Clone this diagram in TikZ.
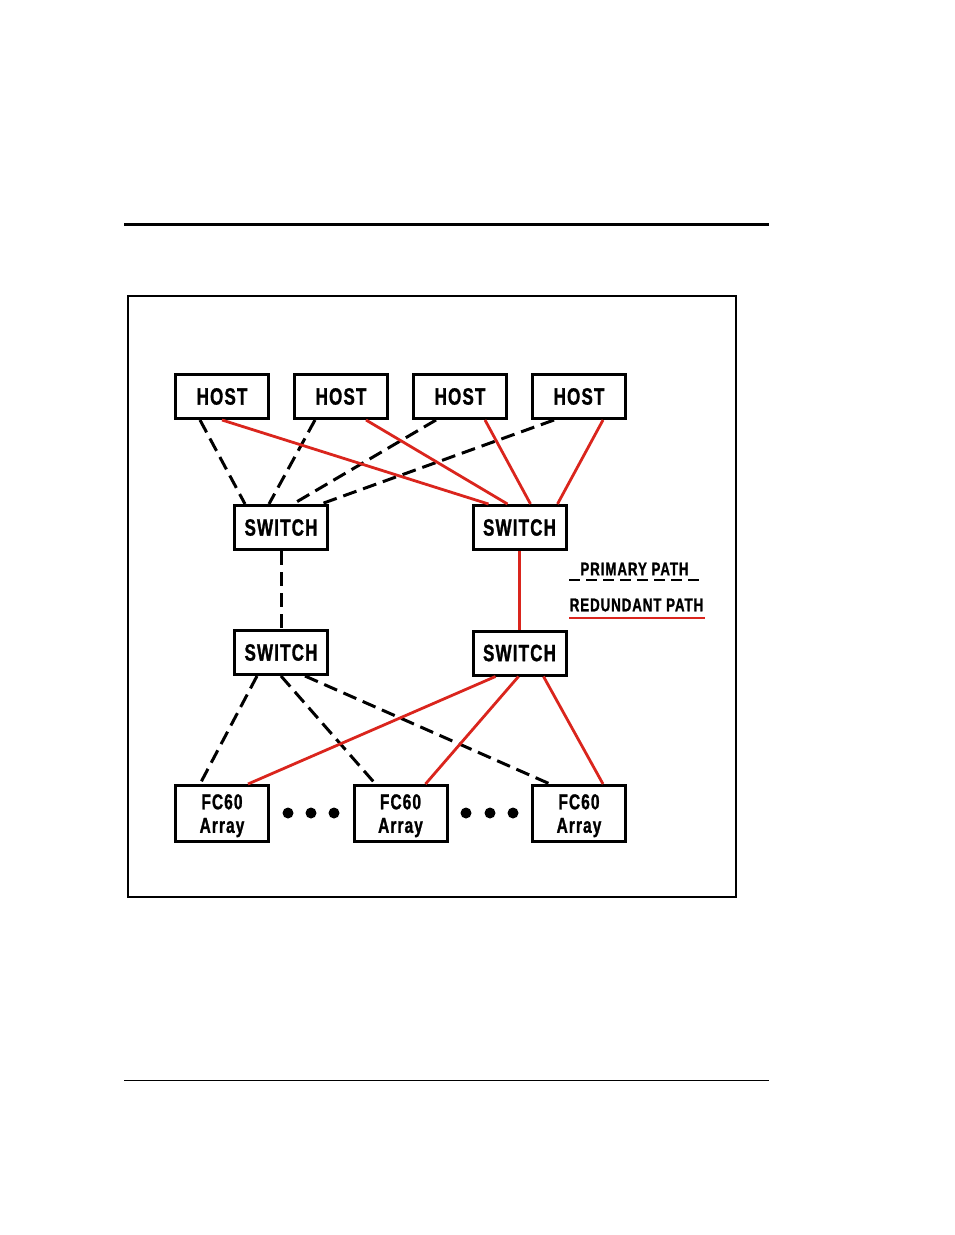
\documentclass[tikz,border=0pt]{standalone}
\usepackage{fontspec}
\newfontfamily\lab{Liberation Sans}[FakeStretch=0.72,LetterSpace=5,BoldFeatures={FakeBold=1.2}]
\definecolor{redpath}{RGB}{218,37,29}
\begin{document}
\begin{tikzpicture}[x=1pt,y=-1pt,
  box/.style={draw=black,line width=3pt,inner sep=0pt,minimum width=93pt,minimum height=44pt,
    font=\lab\bfseries\fontsize{23.6}{26}\selectfont},
  arr/.style={box,minimum height=56pt,align=center,text depth=0pt,font=\lab\bfseries\fontsize{21.5}{23.5}\selectfont},
  prim/.style={line width=3pt,dash pattern=on 14pt off 7pt},
  red/.style={draw=redpath,line width=2.8pt},
  leg/.style={inner sep=0pt,font=\lab\bfseries\fontsize{18.5}{20}\selectfont},
  dot/.style={circle,fill=black,inner sep=0pt,minimum size=11pt}]
\useasboundingbox (0,0) rectangle (954,1235);
% page rules and frame
\coordinate (rt1) at (124,224); \coordinate (rt2) at (769,224);
\draw[line width=3pt] (rt1) -- (rt2);
\coordinate (rb1) at (124,1080); \coordinate (rb2) at (769,1080);
\draw[line width=1pt] (rb1) -- (rb2);
\draw[line width=2pt] (128,296) rectangle (736,897);
% hosts
\node[box] (h1) at (222,396.5) {HOST};
\node[box] (h2) at (341,396.5) {HOST};
\node[box] (h3) at (460,396.5) {HOST};
\node[box] (h4) at (579,396.5) {HOST};
% switches
\node[box] (sl) at (281,527.5) {SWITCH};
\node[box] (sr) at (519.5,527.5) {SWITCH};
\node[box] (bl) at (281,652.5) {SWITCH};
\node[box] (br) at (519.5,653) {SWITCH};
% arrays
\node[arr] (f1) at (222,813.5) {FC60\\Array};
\node[arr] (f2) at (400.5,813.5) {FC60\\Array};
\node[arr] (f3) at (579,813.5) {FC60\\Array};
% dots
\node[dot] (d1) at (288,813) {};
\node[dot] (d2) at (311,813) {};
\node[dot] (d3) at (334,813) {};
\node[dot] (d4) at (466,813) {};
\node[dot] (d5) at (490,813) {};
\node[dot] (d6) at (513,813) {};
% host to switch: primary
\draw[prim] ([xshift=-22pt]h1.south) -- ([xshift=-36pt]sl.north);
\draw[prim] ([xshift=-26pt]h2.south) -- ([xshift=-12pt]sl.north);
\draw[prim] ([xshift=-24pt]h3.south) -- ([xshift=12pt]sl.north);
\draw[prim] ([xshift=-25pt]h4.south) -- ([xshift=40pt]sl.north);
% host to switch: redundant
\draw[red] ([xshift=0pt]h1.south) -- ([xshift=-31pt]sr.north);
\draw[red] ([xshift=25pt]h2.south) -- ([xshift=-12pt]sr.north);
\draw[red] ([xshift=25pt]h3.south) -- ([xshift=11pt]sr.north);
\draw[red] ([xshift=24pt]h4.south) -- ([xshift=38pt]sr.north);
% switch to switch
\draw[prim] (sl.south) -- (bl.north);
\draw[red] (sr.south) -- (br.north);
% switch to arrays
\draw[prim] ([xshift=-24pt]bl.south) -- ([xshift=-22pt]f1.north);
\draw[prim] ([xshift=0pt]bl.south) -- ([xshift=-25pt]f2.north);
\draw[prim] ([xshift=24pt]bl.south) -- ([xshift=-29pt]f3.north);
\draw[red] ([xshift=-24pt]br.south) -- ([xshift=26pt]f1.north);
\draw[red] ([xshift=-1pt]br.south) -- ([xshift=25pt]f2.north);
\draw[red] ([xshift=24pt]br.south) -- ([xshift=24pt]f3.north);
% legend
\node[leg] (lp) at (634.5,569) {PRIMARY PATH};
\node[leg] (lr) at (636.5,605) {REDUNDANT PATH};
\coordinate (lp1) at (569,580); \coordinate (lp2) at (705,580);
\coordinate (lr1) at (569,618); \coordinate (lr2) at (705,618);
\draw[prim,line width=2.6pt,dash pattern=on 11pt off 6pt] (lp1) -- (lp2);
\draw[red] (lr1) -- (lr2);
\end{tikzpicture}
\end{document}
